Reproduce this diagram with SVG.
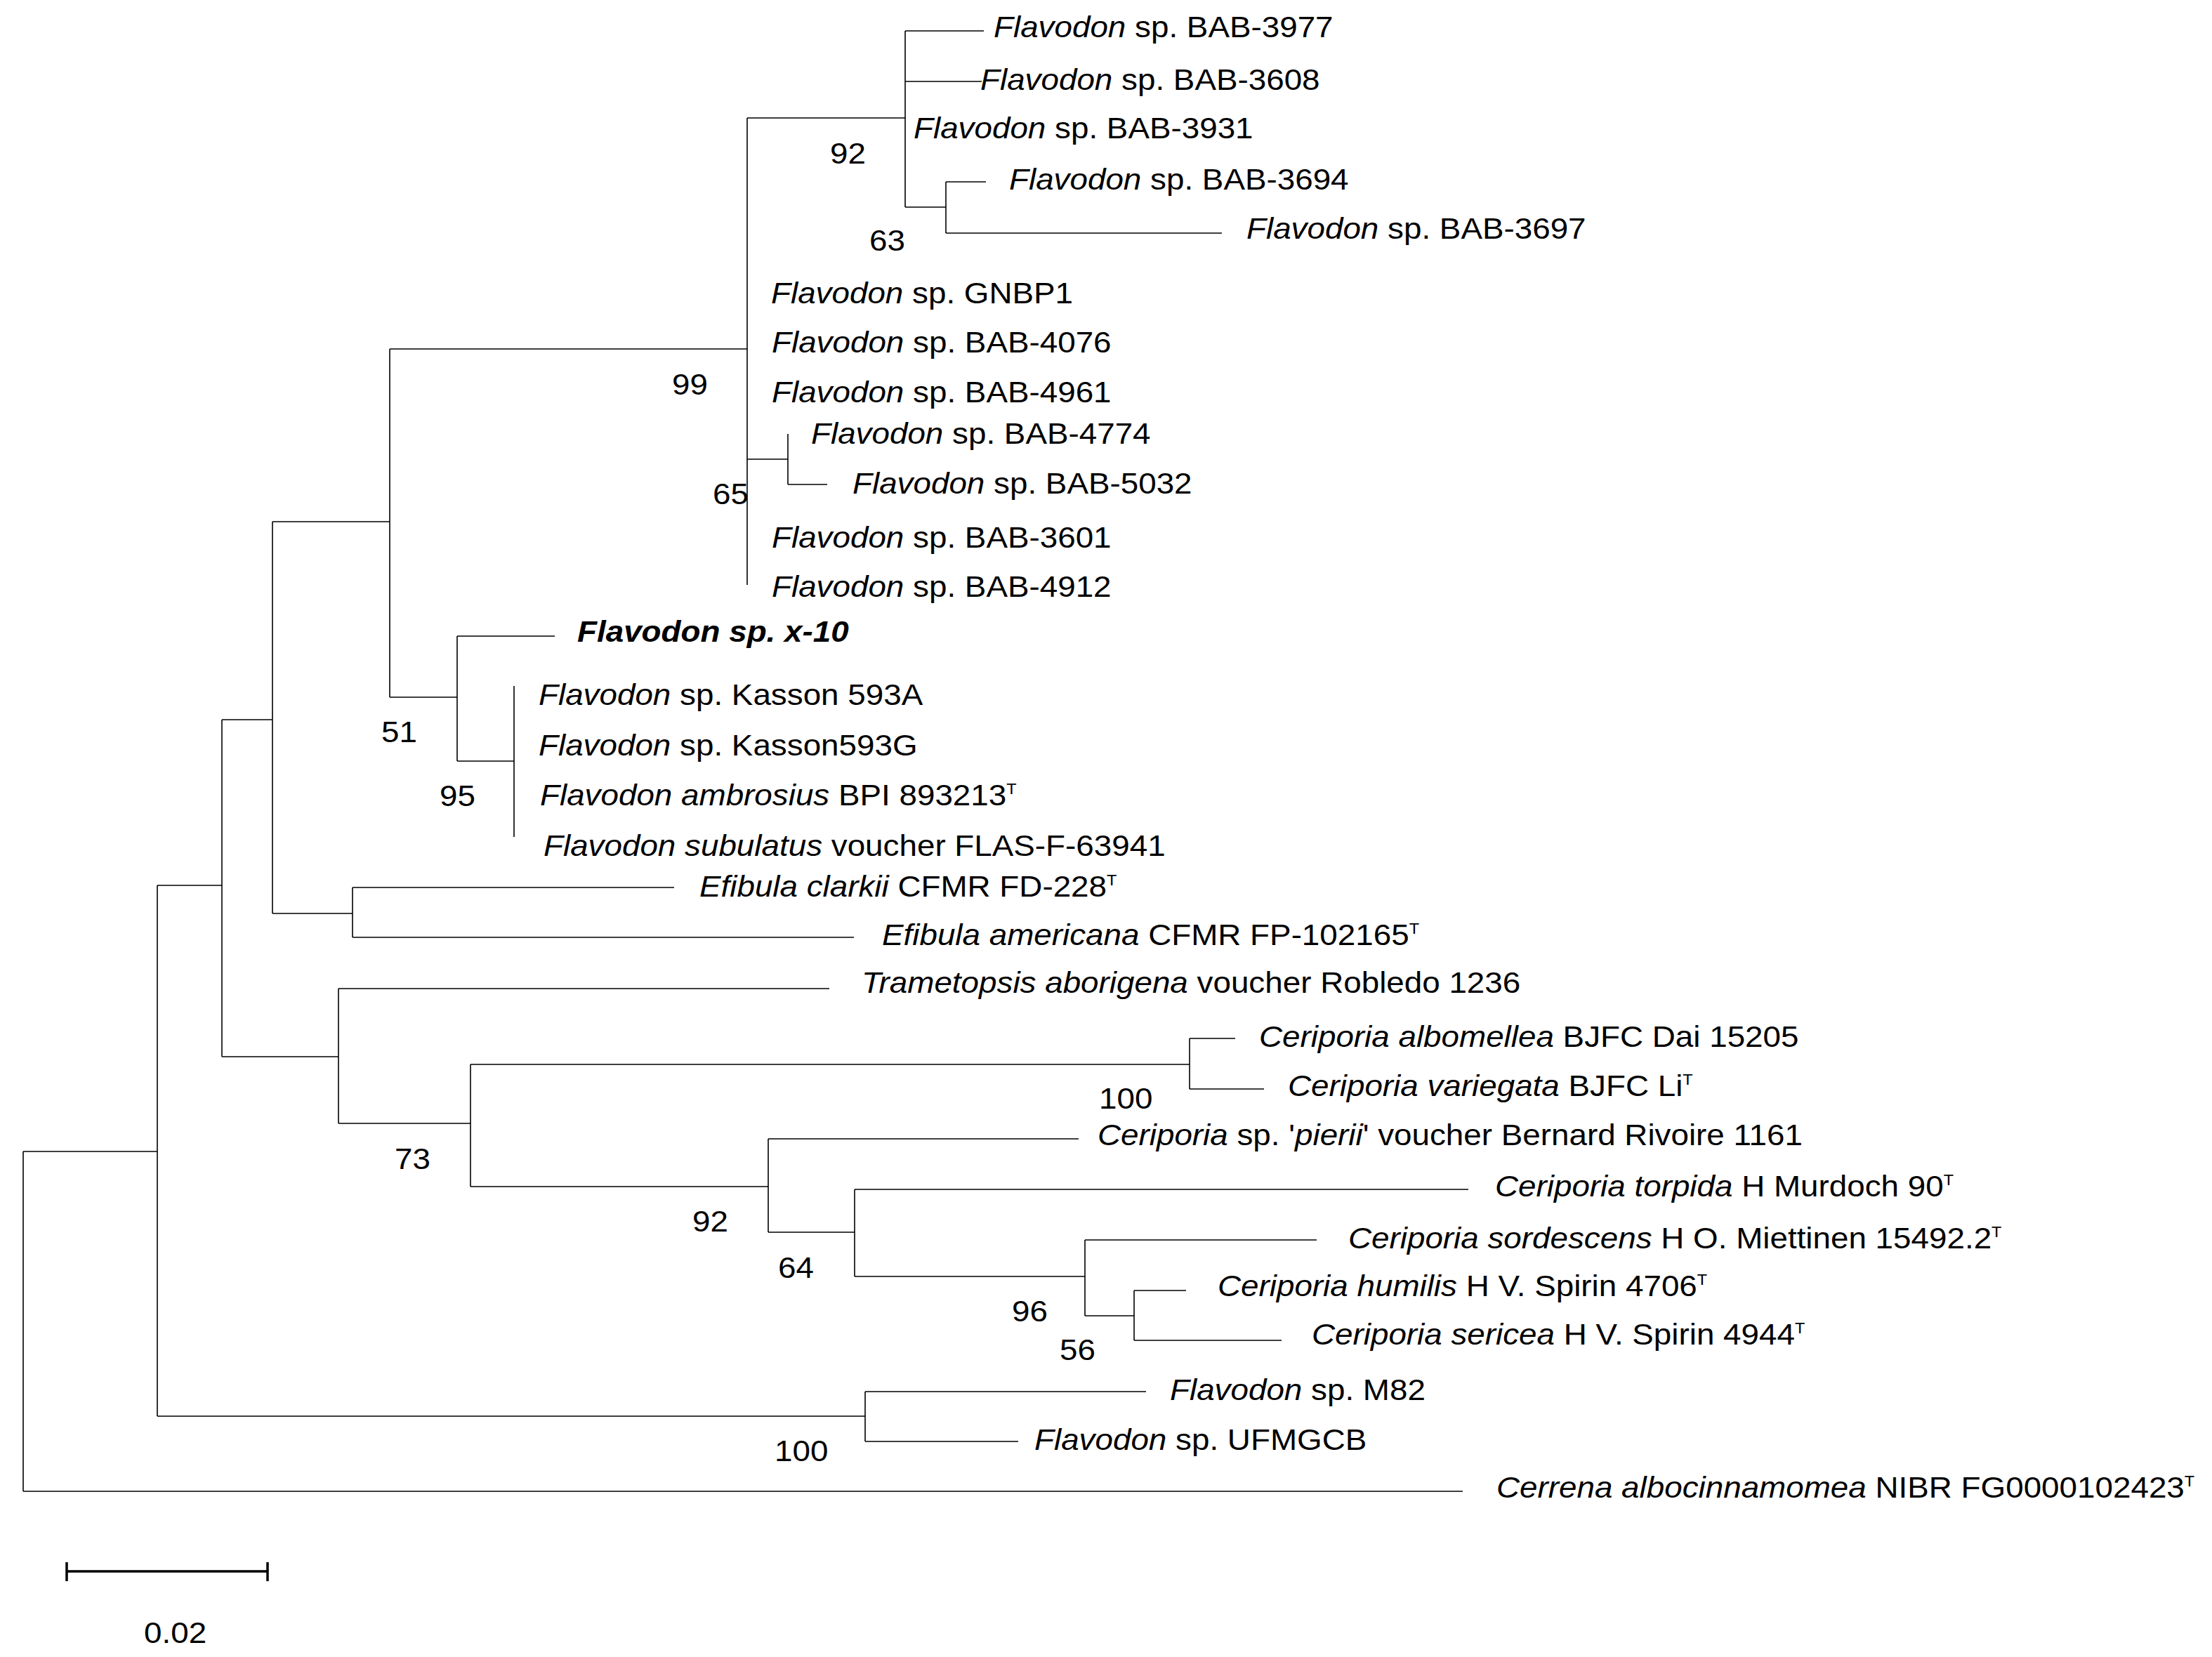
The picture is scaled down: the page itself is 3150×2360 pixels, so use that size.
<svg xmlns="http://www.w3.org/2000/svg" width="3150" height="2360" viewBox="0 0 3150 2360">
<style>
.t{font-family:"Liberation Sans",Arial,sans-serif;font-size:43px;fill:#000}
.i{font-style:italic}
.b{font-weight:bold}
.s{font-size:22px}
.br path{stroke:#000;stroke-width:1.6;fill:none}
.bar{stroke:#000;stroke-width:3.5;fill:none}
</style>
<rect width="3150" height="2360" fill="#fff"/>
<g id="connectors" class="br">
<path d="M33 1640 V2124 M33 2124 H2083 M33 1640 H224"/>
<path d="M224 1261 V2017 M224 2017 H1232 M1232 1982 V2053 M1232 1982 H1632 M1232 2053 H1450"/>
<path d="M224 1261 H316 M316 1025 V1505 M316 1505 H482 M482 1408 V1600 M482 1408 H1181 M482 1600 H670"/>
<path d="M670 1516 V1690 M670 1516 H1694 M1694 1479 V1551 M1694 1479 H1759 M1694 1551 H1800"/>
<path d="M670 1690 H1094 M1094 1622 V1755 M1094 1622 H1536 M1094 1755 H1217 M1217 1694 V1818 M1217 1694 H2091"/>
<path d="M1217 1818 H1545 M1545 1766 V1874 M1545 1766 H1875 M1545 1874 H1615 M1615 1838 V1909 M1615 1838 H1689 M1615 1909 H1825"/>
<path d="M316 1025 H388 M388 743 V1301 M388 1301 H502 M502 1264 V1335 M502 1264 H960 M502 1335 H1216"/>
<path d="M388 743 H555 M555 497 V993 M555 993 H651 M651 906 V1084 M651 906 H790 M651 1084 H732 M732 977 V1192"/>
<path d="M555 497 H1064 M1064 168 V833 M1064 168 H1289 M1289 44 V295 M1289 44 H1401 M1289 116 H1398"/>
<path d="M1289 295 H1347 M1347 259 V332 M1347 259 H1404 M1347 332 H1740"/>
<path d="M1064 654 H1122 M1122 618 V690 M1122 690 H1178"/>
</g>
<g id="taxa">
<g id="t01"><text class="t" transform="matrix(1.065 0 0 1 1415 53)"><tspan class="i">Flavodon</tspan> sp. BAB-3977</text></g>
<g id="t02"><text class="t" transform="matrix(1.065 0 0 1 1396 128)"><tspan class="i">Flavodon</tspan> sp. BAB-3608</text></g>
<g id="t03"><text class="t" transform="matrix(1.065 0 0 1 1301 197)"><tspan class="i">Flavodon</tspan> sp. BAB-3931</text></g>
<g id="t04"><text class="t" transform="matrix(1.065 0 0 1 1437 270)"><tspan class="i">Flavodon</tspan> sp. BAB-3694</text></g>
<g id="t05"><text class="t" transform="matrix(1.065 0 0 1 1775 340)"><tspan class="i">Flavodon</tspan> sp. BAB-3697</text></g>
<g id="t06"><text class="t" transform="matrix(1.065 0 0 1 1098 432)"><tspan class="i">Flavodon</tspan> sp. GNBP1</text></g>
<g id="t07"><text class="t" transform="matrix(1.065 0 0 1 1099 502)"><tspan class="i">Flavodon</tspan> sp. BAB-4076</text></g>
<g id="t08"><text class="t" transform="matrix(1.065 0 0 1 1099 573)"><tspan class="i">Flavodon</tspan> sp. BAB-4961</text></g>
<g id="t09"><text class="t" transform="matrix(1.065 0 0 1 1155 632)"><tspan class="i">Flavodon</tspan> sp. BAB-4774</text></g>
<g id="t10"><text class="t" transform="matrix(1.065 0 0 1 1214 703)"><tspan class="i">Flavodon</tspan> sp. BAB-5032</text></g>
<g id="t11"><text class="t" transform="matrix(1.065 0 0 1 1099 780)"><tspan class="i">Flavodon</tspan> sp. BAB-3601</text></g>
<g id="t12"><text class="t" transform="matrix(1.065 0 0 1 1099 850)"><tspan class="i">Flavodon</tspan> sp. BAB-4912</text></g>
<g id="t13"><text class="t i b" transform="matrix(1.065 0 0 1 822 914)">Flavodon sp. x-10</text></g>
<g id="t14"><text class="t" transform="matrix(1.065 0 0 1 767 1004)"><tspan class="i">Flavodon</tspan> sp. Kasson 593A</text></g>
<g id="t15"><text class="t" transform="matrix(1.065 0 0 1 767 1076)"><tspan class="i">Flavodon</tspan> sp. Kasson593G</text></g>
<g id="t16"><text class="t" transform="matrix(1.065 0 0 1 769 1147)"><tspan class="i">Flavodon ambrosius</tspan> BPI 893213<tspan class="s" dy="-16">T</tspan></text></g>
<g id="t17"><text class="t" transform="matrix(1.065 0 0 1 774 1219)"><tspan class="i">Flavodon subulatus</tspan> voucher FLAS-F-63941</text></g>
<g id="t18"><text class="t" transform="matrix(1.065 0 0 1 996 1277)"><tspan class="i">Efibula clarkii</tspan> CFMR FD-228<tspan class="s" dy="-16">T</tspan></text></g>
<g id="t19"><text class="t" transform="matrix(1.065 0 0 1 1256 1346)"><tspan class="i">Efibula americana</tspan> CFMR FP-102165<tspan class="s" dy="-16">T</tspan></text></g>
<g id="t20"><text class="t" transform="matrix(1.065 0 0 1 1227 1414)"><tspan class="i">Trametopsis aborigena</tspan> voucher Robledo 1236</text></g>
<g id="t21"><text class="t" transform="matrix(1.065 0 0 1 1793 1491)"><tspan class="i">Ceriporia albomellea</tspan> BJFC Dai 15205</text></g>
<g id="t22"><text class="t" transform="matrix(1.065 0 0 1 1834 1561)"><tspan class="i">Ceriporia variegata</tspan> BJFC Li<tspan class="s" dy="-16">T</tspan></text></g>
<g id="t23"><text class="t" transform="matrix(1.065 0 0 1 1563 1631)"><tspan class="i">Ceriporia</tspan> sp. '<tspan class="i">pierii</tspan>' voucher Bernard Rivoire 1161</text></g>
<g id="t24"><text class="t" transform="matrix(1.065 0 0 1 2129 1704)"><tspan class="i">Ceriporia torpida</tspan> H Murdoch 90<tspan class="s" dy="-16">T</tspan></text></g>
<g id="t25"><text class="t" transform="matrix(1.065 0 0 1 1920 1778)"><tspan class="i">Ceriporia sordescens</tspan> H O. Miettinen 15492.2<tspan class="s" dy="-16">T</tspan></text></g>
<g id="t26"><text class="t" transform="matrix(1.065 0 0 1 1734 1846)"><tspan class="i">Ceriporia humilis</tspan> H V. Spirin 4706<tspan class="s" dy="-16">T</tspan></text></g>
<g id="t27"><text class="t" transform="matrix(1.065 0 0 1 1868 1915)"><tspan class="i">Ceriporia sericea</tspan> H V. Spirin 4944<tspan class="s" dy="-16">T</tspan></text></g>
<g id="t28"><text class="t" transform="matrix(1.065 0 0 1 1666 1994)"><tspan class="i">Flavodon</tspan> sp. M82</text></g>
<g id="t29"><text class="t" transform="matrix(1.065 0 0 1 1473 2065)"><tspan class="i">Flavodon</tspan> sp. UFMGCB</text></g>
<g id="t30"><text class="t" transform="matrix(1.065 0 0 1 2131 2133)"><tspan class="i">Cerrena albocinnamomea</tspan> NIBR FG0000102423<tspan class="s" dy="-16">T</tspan></text></g>
</g>
<g id="bootstrap">
<text class="t" transform="matrix(1.065 0 0 1 1182 233)">92</text>
<text class="t" transform="matrix(1.065 0 0 1 1238 357)">63</text>
<text class="t" transform="matrix(1.065 0 0 1 957 562)">99</text>
<text class="t" transform="matrix(1.065 0 0 1 1015 718)">65</text>
<text class="t" transform="matrix(1.065 0 0 1 543 1057)">51</text>
<text class="t" transform="matrix(1.065 0 0 1 626 1148)">95</text>
<text class="t" transform="matrix(1.065 0 0 1 562 1665)">73</text>
<text class="t" transform="matrix(1.065 0 0 1 1565 1579)">100</text>
<text class="t" transform="matrix(1.065 0 0 1 986 1754)">92</text>
<text class="t" transform="matrix(1.065 0 0 1 1108 1820)">64</text>
<text class="t" transform="matrix(1.065 0 0 1 1441 1882)">96</text>
<text class="t" transform="matrix(1.065 0 0 1 1509 1937)">56</text>
<text class="t" transform="matrix(1.065 0 0 1 1103 2081)">100</text>
</g>
<g id="scalebar">
<path class="bar" d="M95 2238 H381 M95 2225 V2252 M381 2225 V2252"/>
<text class="t" transform="matrix(1.065 0 0 1 205 2340)">0.02</text>
</g>
</svg>
